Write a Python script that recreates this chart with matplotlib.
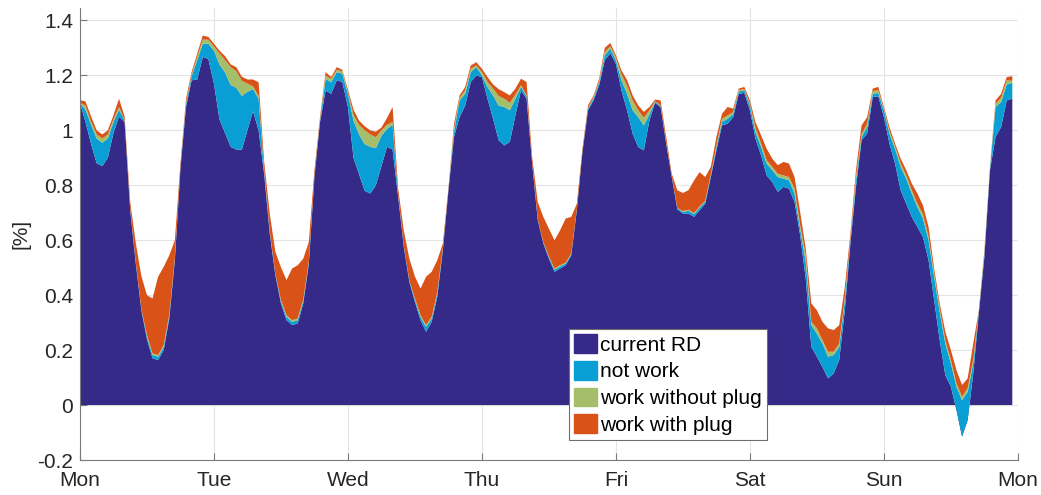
import numpy as np
import matplotlib
matplotlib.use('Agg')
import matplotlib.pyplot as plt
from matplotlib.patches import Patch

plt.rcParams['font.family'] = ['Liberation Sans', 'DejaVu Sans']

days = ['Mon', 'Tue', 'Wed', 'Thu', 'Fri', 'Sat', 'Sun', 'Mon']

# hourly values, Monday 00:00 to Sunday 23:00
current_rd = [
    # Mon
    1.10, 1.03, 0.95, 0.88, 0.87, 0.90, 0.99, 1.05, 1.03, 0.71, 0.515, 0.345,
    0.24, 0.17, 0.164, 0.20, 0.315, 0.527, 0.86, 1.085, 1.182, 1.185, 1.267, 1.26,
    # Tue
    1.17, 1.04, 0.99, 0.94, 0.93, 0.93, 1.0, 1.07, 1.0, 0.84, 0.624, 0.473,
    0.37, 0.309, 0.291, 0.297, 0.37, 0.515, 0.83, 1.03, 1.145, 1.133, 1.182, 1.176,
    # Wed
    1.085, 0.90, 0.84, 0.78, 0.77, 0.80, 0.87, 0.94, 0.93, 0.758, 0.576, 0.448,
    0.376, 0.309, 0.267, 0.303, 0.394, 0.564, 0.78, 0.976, 1.048, 1.09, 1.176, 1.20,
    # Thu
    1.194, 1.115, 1.042, 0.964, 0.945, 0.958, 1.055, 1.145, 1.115, 0.879, 0.673, 0.588,
    0.533, 0.485, 0.497, 0.509, 0.545, 0.709, 0.92, 1.073, 1.109, 1.164, 1.255, 1.281,
    # Fri
    1.242, 1.145, 1.073, 0.988, 0.939, 0.927, 1.036, 1.10, 1.085, 0.952, 0.83, 0.712,
    0.697, 0.697, 0.685, 0.709, 0.733, 0.83, 0.927, 1.018, 1.024, 1.048, 1.133, 1.136,
    # Sat
    1.073, 0.97, 0.909, 0.836, 0.812, 0.776, 0.794, 0.788, 0.739, 0.618, 0.461, 0.212,
    0.176, 0.139, 0.097, 0.115, 0.164, 0.345, 0.588, 0.794, 0.964, 0.988, 1.121, 1.124,
    # Sun
    1.048, 0.952, 0.879, 0.782, 0.733, 0.685, 0.648, 0.612, 0.527, 0.382, 0.236, 0.109,
    0.067, -0.018, -0.115, -0.055, 0.115, 0.333, 0.539, 0.855, 0.976, 1.012, 1.109, 1.115,
]

not_work = [
    0.0, 0.045, 0.07, 0.09, 0.085, 0.07, 0.04, 0.025, 0.005, 0.005, 0.005, 0.005,
    0.01, 0.012, 0.012, 0.012, 0.01, 0.005, 0.005, 0.01, 0.015, 0.07, 0.048, 0.055,
    0.12, 0.20, 0.22, 0.225, 0.225, 0.195, 0.14, 0.08, 0.115, 0.01, 0.005, 0.005,
    0.008, 0.012, 0.012, 0.012, 0.01, 0.005, 0.005, 0.005, 0.042, 0.042, 0.03, 0.03,
    0.048, 0.135, 0.145, 0.17, 0.17, 0.135, 0.11, 0.065, 0.09, 0.005, 0.005, 0.005,
    0.008, 0.012, 0.018, 0.012, 0.012, 0.005, 0.003, 0.02, 0.061, 0.043, 0.036, 0.03,
    0.006, 0.043, 0.085, 0.126, 0.14, 0.115, 0.06, 0.013, 0.009, 0.003, 0.003, 0.005,
    0.005, 0.008, 0.008, 0.006, 0.005, 0.003, 0.003, 0.005, 0.008, 0.01, 0.018, 0.016,
    0.013, 0.037, 0.06, 0.085, 0.109, 0.091, 0.022, 0.004, 0.004, 0.003, 0.003, 0.005,
    0.006, 0.01, 0.01, 0.01, 0.008, 0.006, 0.012, 0.012, 0.018, 0.012, 0.008, 0.01,
    0.018, 0.024, 0.031, 0.043, 0.043, 0.054, 0.03, 0.03, 0.031, 0.024, 0.06, 0.079,
    0.084, 0.085, 0.079, 0.067, 0.048, 0.037, 0.01, 0.024, 0.012, 0.024, 0.012, 0.012,
    0.025, 0.036, 0.054, 0.085, 0.091, 0.085, 0.073, 0.067, 0.073, 0.085, 0.103, 0.115,
    0.085, 0.085, 0.133, 0.103, 0.037, 0.006, 0.01, 0.005, 0.109, 0.091, 0.058, 0.058,
]

work_without_plug = [
    0.0, 0.015, 0.01, 0.015, 0.015, 0.015, 0.01, 0.01, 0.0, 0.0, 0.0, 0.0,
    0.005, 0.006, 0.006, 0.006, 0.005, 0.003, 0.0, 0.005, 0.005, 0.012, 0.015, 0.015,
    0.015, 0.04, 0.045, 0.065, 0.06, 0.055, 0.03, 0.01, 0.01, 0.005, 0.003, 0.0,
    0.004, 0.006, 0.006, 0.006, 0.005, 0.003, 0.0, 0.003, 0.012, 0.012, 0.008, 0.008,
    0.006, 0.02, 0.035, 0.05, 0.045, 0.04, 0.02, 0.015, 0.01, 0.0, 0.0, 0.0,
    0.004, 0.006, 0.006, 0.006, 0.005, 0.003, 0.0, 0.01, 0.009, 0.012, 0.012, 0.006,
    0.012, 0.018, 0.025, 0.035, 0.03, 0.027, 0.015, 0.006, 0.003, 0.0, 0.0, 0.0,
    0.003, 0.004, 0.004, 0.003, 0.002, 0.0, 0.0, 0.003, 0.004, 0.005, 0.012, 0.009,
    0.009, 0.021, 0.03, 0.036, 0.025, 0.028, 0.015, 0.002, 0.002, 0.0, 0.0, 0.0,
    0.003, 0.004, 0.004, 0.004, 0.003, 0.003, 0.006, 0.012, 0.012, 0.006, 0.006, 0.003,
    0.006, 0.016, 0.012, 0.012, 0.012, 0.012, 0.012, 0.012, 0.018, 0.013, 0.024, 0.012,
    0.019, 0.012, 0.018, 0.012, 0.012, 0.01, 0.005, 0.012, 0.01, 0.012, 0.01, 0.01,
    0.005, 0.01, 0.009, 0.012, 0.012, 0.012, 0.012, 0.016, 0.012, 0.012, 0.013, 0.012,
    0.012, 0.012, 0.012, 0.013, 0.012, 0.003, 0.005, 0.003, 0.012, 0.015, 0.015, 0.007,
]

work_with_plug = [
    0.01, 0.015, 0.02, 0.015, 0.015, 0.015, 0.015, 0.03, 0.015, 0.025, 0.07, 0.12,
    0.145, 0.20, 0.285, 0.285, 0.215, 0.065, 0.015, 0.015, 0.01, 0.012, 0.015, 0.01,
    0.01, 0.01, 0.015, 0.01, 0.015, 0.015, 0.015, 0.025, 0.05, 0.03, 0.065, 0.08,
    0.12, 0.128, 0.188, 0.194, 0.148, 0.071, 0.02, 0.01, 0.013, 0.007, 0.01, 0.006,
    0.009, 0.02, 0.015, 0.015, 0.015, 0.02, 0.01, 0.025, 0.055, 0.025, 0.055, 0.08,
    0.08, 0.097, 0.176, 0.164, 0.116, 0.016, 0.007, 0.018, 0.009, 0.013, 0.012, 0.012,
    0.012, 0.018, 0.015, 0.025, 0.024, 0.027, 0.022, 0.024, 0.049, 0.021, 0.063, 0.092,
    0.101, 0.103, 0.127, 0.161, 0.133, 0.021, 0.01, 0.01, 0.006, 0.009, 0.015, 0.012,
    0.009, 0.015, 0.02, 0.018, 0.018, 0.021, 0.012, 0.006, 0.018, 0.021, 0.009, 0.065,
    0.066, 0.071, 0.119, 0.125, 0.086, 0.028, 0.031, 0.018, 0.031, 0.013, 0.005, 0.009,
    0.012, 0.02, 0.03, 0.042, 0.03, 0.031, 0.049, 0.049, 0.042, 0.048, 0.025, 0.067,
    0.066, 0.067, 0.085, 0.079, 0.067, 0.038, 0.021, 0.025, 0.032, 0.024, 0.009, 0.012,
    0.007, 0.014, 0.01, 0.018, 0.019, 0.024, 0.037, 0.032, 0.036, 0.018, 0.018, 0.031,
    0.036, 0.048, 0.043, 0.036, 0.06, 0.003, 0.01, 0.004, 0.012, 0.015, 0.012, 0.017,
]

labels = ['current RD', 'not work', 'work without plug', 'work with plug']
colors = ['#352a87', '#0a9fd4', '#a5be6a', '#d95319']

hours = np.arange(len(current_rd))

fig = plt.figure(figsize=(10.41, 4.95), dpi=100)
ax = fig.add_axes([0.0768, 0.0707, 0.901, 0.913])

ax.stackplot(hours, current_rd, not_work, work_without_plug, work_with_plug,
             colors=colors, linewidth=0)

ax.set_xlim(0, 168)
ax.set_ylim(-0.2, 1.445)
ax.set_xticks(np.arange(0, 169, 24))
ax.set_xticklabels(days)
yt = np.arange(-0.2, 1.41, 0.2)
ax.set_yticks(yt)
ax.set_yticklabels(['%g' % round(v, 1) for v in yt])

ax.grid(True, color='#e4e4e4', linewidth=0.8)
ax.set_axisbelow(True)
for s in ['top', 'right']:
    ax.spines[s].set_visible(False)
for s in ['left', 'bottom']:
    ax.spines[s].set_color('#7a7a7a')
    ax.spines[s].set_linewidth(0.8)
ax.tick_params(direction='in', length=5, width=0.8, color='#7a7a7a',
               labelsize=15, labelcolor='#262626')
ax.tick_params(axis='y', pad=5)
ax.tick_params(axis='x', pad=8)
ax.set_ylabel('[%]', fontsize=15, color='#262626', labelpad=5)

handles = [Patch(facecolor=c, edgecolor=c, label=l) for c, l in zip(colors, labels)]
leg = ax.legend(handles=handles, loc='lower left', bbox_to_anchor=(0.5213, 0.0442),
                fontsize=15, borderaxespad=0, borderpad=0.25, handlelength=1.1,
                handleheight=1.0, handletextpad=0.15, labelspacing=0.3,
                fancybox=False, framealpha=1)
leg.get_frame().set_edgecolor('#6e6e6e')
leg.get_frame().set_linewidth(0.8)

fig.savefig('out.png', dpi=100)
